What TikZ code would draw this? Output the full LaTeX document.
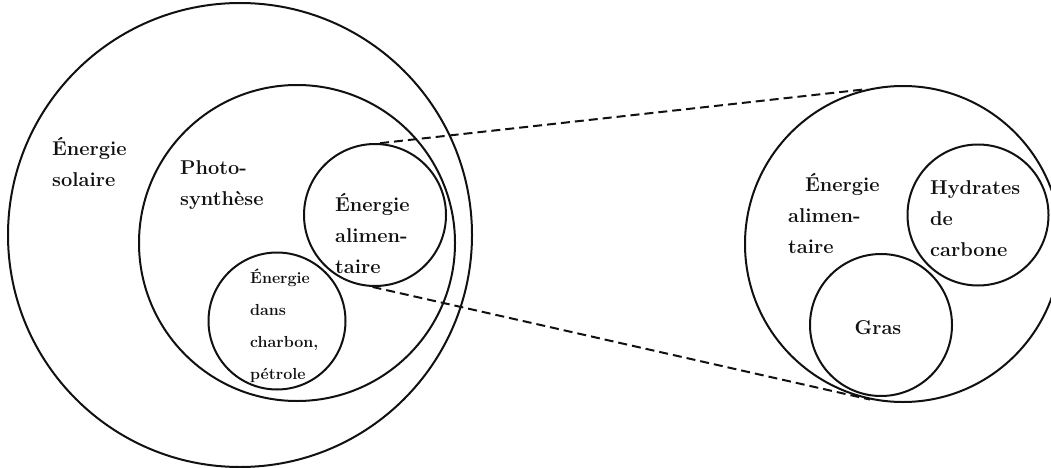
\documentclass[tikz,border=0pt]{standalone}
\usepackage{tikz}
\definecolor{ink}{HTML}{111111}

\begin{document}
\begin{tikzpicture}[x=1pt,y=-1pt,
 set/.style={circle,draw=ink,line width=2pt,inner sep=0pt,minimum size=#1},
 lbl/.style={align=left,anchor=west,inner sep=0pt,text=ink,
  font=\bfseries\fontsize{20}{31}\selectfont},
 small/.style={lbl,font=\bfseries\fontsize{16}{32}\selectfont},
 zoomline/.style={draw=ink,line width=2pt,dash pattern=on 9pt off 5pt}]
\useasboundingbox (0,0) rectangle (1051,468);
% nested sets on the left
\node[set=464pt] (sun) at (240,235) {};
\node[set=316pt] (photo) at (297,243) {};
\node[set=142pt] (food) at (375,215) {};
\node[set=137pt] (fossil) at (277,321) {};
\node[lbl] (sunlbl) at (52,162) {Énergie\\solaire};
\node[lbl] (photolbl) at (180,185) {Photo-\\synthèse};
\node[lbl] (foodlbl) at (335,233) {Énergie\\alimen-\\taire};
\node[small] (fossillbl) at (250,326) {Énergie\\dans\\charbon,\\pétrole};
% enlarged food set on the right
\node[set=316pt] (bigfood) at (903,244) {};
\node[set=141pt] (carbs) at (978,215) {};
\node[set=142pt] (fat) at (881,325) {};
\node[lbl] (bigfoodlbl) at (788,213) {\hspace{17pt}Énergie\\alimen-\\taire};
\node[lbl] (carbslbl) at (930,219) {Hydrates\\de\\carbone};
\node[lbl,anchor=center] (fatlbl) at (878,328) {Gras};
% zoom lines
\draw[zoomline] (food.86) -- (bigfood.103);
\draw[zoomline] (food.268) -- (bigfood.258);
\end{tikzpicture}
\end{document}
